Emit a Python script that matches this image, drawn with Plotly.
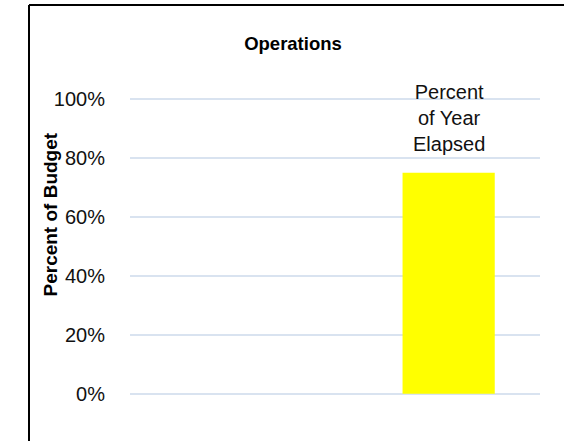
import plotly.graph_objects as go

categories = ["", "Percent of Year Elapsed"]
values = [None, 0.75]
bar_labels = ["", "Percent<br>of Year<br>Elapsed"]
tick_vals = [0, 0.2, 0.4, 0.6, 0.8, 1.0]
tick_text = ["0%", "20%", "40%", "60%", "80%", "100%"]

W, H = 564, 441
L, R, T, B = 130, 24, 98, 46
pw, ph = W - L - R, H - T - B
FONT = "Liberation Sans, Arial"

fig = go.Figure()
fig.add_trace(go.Bar(
    x=categories, y=values, width=0.434,
    marker=dict(color="#FFFF00", line=dict(width=0)),
    hoverinfo="skip",
))

for c, v, t in zip(categories, values, bar_labels):
    if v is not None:
        fig.add_annotation(x=c, y=v, text=t, showarrow=False, yanchor="bottom",
                           yshift=16, font=dict(family=FONT, size=20, color="#111111"))

# frame lines (chart border)
fx = (29 - L) / pw
fy_top = (H - B - 5) / ph
fig.add_shape(type="line", xref="paper", yref="paper", x0=fx, x1=fx, y0=-1, y1=fy_top,
              line=dict(color="black", width=2))
fig.add_shape(type="line", xref="paper", yref="paper", x0=fx, x1=2, y0=fy_top, y1=fy_top,
              line=dict(color="black", width=2))

fig.add_annotation(xref="paper", yref="paper", x=(37 - L) / pw, y=(H - B - 215) / ph,
                   text="<b>Percent of Budget</b>", textangle=-90, showarrow=False,
                   font=dict(family=FONT, size=19, color="black"))

fig.update_layout(
    width=W, height=H,
    margin=dict(l=L, r=R, t=T, b=B, autoexpand=False),
    paper_bgcolor="white", plot_bgcolor="white",
    title=dict(text="<b>Operations</b>", x=293 / W, xanchor="center", y=1 - 44 / H, yanchor="middle",
               font=dict(family=FONT, size=18.5, color="black")),
    xaxis=dict(range=[-0.5, 1.43], showticklabels=False, showgrid=False, zeroline=False,
               showline=False, ticks=""),
    yaxis=dict(range=[-0.004, 1.004], tickvals=tick_vals, ticktext=tick_text, showgrid=True,
               gridcolor="#D9E3F0", gridwidth=1.5, zeroline=False, showline=False,
               tickfont=dict(family=FONT, size=20, color="#111111"),
               ticks="", ticklabelstandoff=24),
    showlegend=False,
)

fig.write_html("out.html", config={"displayModeBar": False},
               post_script="document.body.style.margin='0';")
